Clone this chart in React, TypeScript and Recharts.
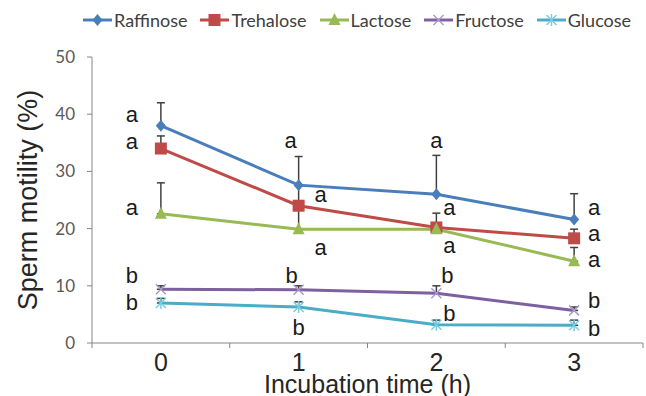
import { LineChart, Line, XAxis, YAxis, ErrorBar, Legend, LabelList } from 'recharts'

document.body.style.margin = '0'

const categories = ['0', '1', '2', '3']

const raffinose = [38, 27.6, 26, 21.6]
const raffinoseErr = [4, 5, 6.8, 4.5]
const trehalose = [34, 24, 20.2, 18.3]
const trehaloseErr = [2.2, 0, 2.5, 1.6]
const lactose = [22.6, 19.9, 19.9, 14.3]
const lactoseErr = [5.4, 7.6, 0, 2.4]
const fructose = [9.4, 9.3, 8.7, 5.7]
const fructoseErr = [0.6, 0.7, 1.3, 0.6]
const glucose = [7, 6.3, 3.2, 3.1]
const glucoseErr = [0.8, 0.9, 0.8, 0.9]

const raffinoseLetters = ['a', 'a', 'a', 'a']
const trehaloseLetters = ['a', 'a', 'a', 'a']
const lactoseLetters = ['a', 'a', 'a', 'a']
const fructoseLetters = ['b', 'b', 'b', 'b']
const glucoseLetters = ['b', 'b', 'b', 'b']

const yTicks = [0, 10, 20, 30, 40, 50]

const data = categories.map((c, i) => ({
  time: c,
  raffinose: raffinose[i],
  raffinoseErr: [0, raffinoseErr[i]],
  trehalose: trehalose[i],
  trehaloseErr: [0, trehaloseErr[i]],
  lactose: lactose[i],
  lactoseErr: [0, lactoseErr[i]],
  fructose: fructose[i],
  fructoseErr: [0, fructoseErr[i]],
  glucose: glucose[i],
  glucoseErr: [0, glucoseErr[i]],
}))

type Shape = 'diamond' | 'square' | 'triangle' | 'cross' | 'star'

interface SeriesDef {
  key: string
  name: string
  color: string
  markColor: string
  shape: Shape
  letters: string[]
  // letter offsets from the data point (centre), per time point
  offsets: [number, number][]
}

const series: SeriesDef[] = [
  {
    key: 'raffinose', name: 'Raffinose', color: '#4A7EBB', markColor: '#4A7EBB', shape: 'diamond',
    letters: raffinoseLetters, offsets: [[-29, -10], [-8, -43], [0, -52], [20, -10]],
  },
  {
    key: 'trehalose', name: 'Trehalose', color: '#BE4B48', markColor: '#BE4B48', shape: 'square',
    letters: trehaloseLetters, offsets: [[-29, -6], [22, -10], [13, -18], [20, -3]],
  },
  {
    key: 'lactose', name: 'Lactose', color: '#98B954', markColor: '#98B954', shape: 'triangle',
    letters: lactoseLetters, offsets: [[-29, -5], [22, 20], [13, 18], [20, 0]],
  },
  {
    key: 'fructose', name: 'Fructose', color: '#7D60A0', markColor: '#A99BC8', shape: 'cross',
    letters: fructoseLetters, offsets: [[-29, -14], [-7, -15], [11, -18], [20, -10]],
  },
  {
    key: 'glucose', name: 'Glucose', color: '#4BACC6', markColor: '#7CCBE0', shape: 'star',
    letters: glucoseLetters, offsets: [[-29, -1], [0, 20], [13, -12], [20, 3]],
  },
]

const W = 646
const H = 396
const axisColor = '#868686'
const textColor = '#262626'
const arial = '"Liberation Sans", Arial, sans-serif'
const calibriLike = 'Lato, "Open Sans", sans-serif'
const plotLeft = 92
const plotRight = 643
const halfBand = (plotRight - plotLeft) / categories.length / 2

function Marker({ cx, cy, shape, color }: { cx: number; cy: number; shape: Shape; color: string }) {
  if (cx == null || cy == null) return null
  switch (shape) {
    case 'diamond':
      return <polygon points={`${cx},${cy - 6} ${cx + 5},${cy} ${cx},${cy + 6} ${cx - 5},${cy}`} fill={color} />
    case 'square':
      return <rect x={cx - 6} y={cy - 6} width={12} height={12} fill={color} />
    case 'triangle':
      return <polygon points={`${cx},${cy - 7} ${cx + 6},${cy + 5} ${cx - 6},${cy + 5}`} fill={color} />
    case 'cross':
      return (
        <g stroke={color} strokeWidth={1.5}>
          <line x1={cx - 5} y1={cy - 5} x2={cx + 5} y2={cy + 5} />
          <line x1={cx - 5} y1={cy + 5} x2={cx + 5} y2={cy - 5} />
        </g>
      )
    default:
      return (
        <g stroke={color} strokeWidth={1.5}>
          <line x1={cx - 5} y1={cy - 5} x2={cx + 5} y2={cy + 5} />
          <line x1={cx - 5} y1={cy + 5} x2={cx + 5} y2={cy - 5} />
          <line x1={cx} y1={cy - 6} x2={cx} y2={cy + 6} />
        </g>
      )
  }
}

function XTick(props: any) {
  const { x, y, payload, index } = props
  return (
    <g>
      <text x={x} y={y + 28} textAnchor="middle" fontSize={25} fontFamily={arial} fill={textColor}>
        {payload.value}
      </text>
      <line x1={x + halfBand} x2={x + halfBand} y1={y} y2={y + 5} stroke={axisColor} />
      {index === 0 && <line x1={x - halfBand} x2={x - halfBand} y1={y} y2={y + 5} stroke={axisColor} />}
    </g>
  )
}

function LegendContent() {
  return (
    <div style={{ display: 'flex', gap: 13, fontFamily: calibriLike, fontSize: 18, color: '#404040', lineHeight: '24px' }}>
      {series.map((s) => (
        <div key={s.key} style={{ display: 'flex', alignItems: 'center', gap: 2 }}>
          <svg width={29} height={14}>
            <line x1={0} x2={29} y1={7} y2={7} stroke={s.color} strokeWidth={3} />
            <Marker cx={14.5} cy={7} shape={s.shape} color={s.markColor} />
          </svg>
          <span>{s.name}</span>
        </div>
      ))}
    </div>
  )
}

function letterLabel(s: SeriesDef) {
  return (props: any) => {
    const px = props.x ?? props.viewBox?.x
    const py = props.y ?? props.viewBox?.y
    const i = props.index
    if (px == null || py == null || i == null) return null
    const [dx, dy] = s.offsets[i]
    const letter = s.letters[i]
    return (
      <text
        x={px + dx}
        y={py + dy + (letter === 'b' ? 8 : 6)}
        textAnchor="middle"
        fontSize={22}
        fontFamily={arial}
        fill="#1a1a1a"
      >
        {letter}
      </text>
    )
  }
}

export default function App() {
  return (
    <div style={{ width: W, height: H, background: '#fff' }}>
      <LineChart width={W} height={H} data={data} margin={{ top: 57, right: W - plotRight, bottom: 0, left: 0 }}>
        <XAxis
          dataKey="time"
          height={H - 343}
          padding={{ left: halfBand, right: halfBand }}
          axisLine={{ stroke: axisColor }}
          tickLine={false}
          tickSize={0}
          tickMargin={0}
          tick={<XTick />}
          interval={0}
          label={{
            content: ({ viewBox }: any) => (
              <text
                x={viewBox.x + viewBox.width / 2}
                y={393}
                textAnchor="middle"
                fontSize={25}
                fontFamily={arial}
                fill={textColor}
              >
                Incubation time (h)
              </text>
            ),
          }}
        />
        <YAxis
          width={plotLeft}
          domain={[0, 50]}
          ticks={yTicks}
          interval={0}
          axisLine={{ stroke: axisColor }}
          tickLine={{ stroke: axisColor }}
          tickSize={5}
          tickMargin={12}
          tick={{ fill: '#595959', fontSize: 17, fontFamily: calibriLike }}
          label={{
            content: ({ viewBox }: any) => {
              const cy = viewBox.y + viewBox.height / 2
              return (
                <text
                  x={37}
                  y={cy}
                  transform={`rotate(-90, 37, ${cy})`}
                  textAnchor="middle"
                  fontSize={27}
                  fontFamily={arial}
                  fill={textColor}
                >
                  Sperm motility (%)
                </text>
              )
            },
          }}
        />
        <Legend
          layout="horizontal"
          verticalAlign="middle"
          align="center"
          wrapperStyle={{ top: 8, left: 83, width: 563, height: 24 }}
          content={<LegendContent />}
        />
        {series.map((s) => (
          <Line
            key={s.key}
            dataKey={s.key}
            name={s.name}
            stroke={s.color}
            strokeWidth={3}
            type="linear"
            isAnimationActive={false}
            dot={(p: any) => <Marker key={`${s.key}-${p.index}`} cx={p.cx} cy={p.cy} shape={s.shape} color={s.markColor} />}
            activeDot={false}
          >
            <ErrorBar dataKey={`${s.key}Err`} direction="y" width={4} stroke="#404040" strokeWidth={1.5} />
            <LabelList dataKey={s.key} content={letterLabel(s)} />
          </Line>
        ))}
      </LineChart>
    </div>
  )
}
